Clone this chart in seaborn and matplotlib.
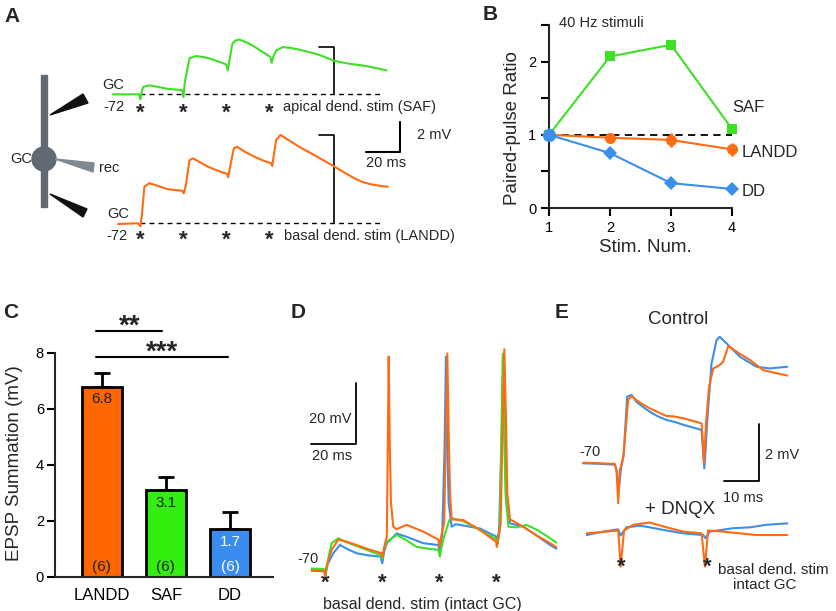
import numpy as np
import pandas as pd
import matplotlib
matplotlib.use('Agg')
import matplotlib.pyplot as plt
import seaborn as sns
from matplotlib.patches import Polygon, Circle, Rectangle

# ---------------- data ----------------
# Panel A traces: (time ms from 1st stim, mV from baseline)
a_saf_trace = [(-16, 0), (-2.7, 0), (-0.8, 0), (0, -0.33), (0.8, 0.2), (1.7, 0.5), (5.2, 0.6), (10, 0.5),
               (15, 0.38), (20, 0.32), (24.2, 0.28), (25, -0.18), (25.8, 0.8), (28.5, 2.4), (32, 2.55),
               (36, 2.5), (40, 2.4), (45, 2.2), (49.8, 2.0), (50.8, 1.6), (51.8, 2.3), (53.5, 3.4),
               (55.5, 3.6), (57.5, 3.65), (61, 3.5), (65, 3.27), (70, 2.9), (75.5, 2.5), (76.3, 2.1),
               (77.2, 2.5), (79, 2.93), (82.7, 3.15), (87, 3.1), (92.4, 2.98), (97, 2.85), (102, 2.7),
               (107, 2.5), (111.8, 2.27), (116, 2.15), (121.5, 2.04), (126, 1.97), (131, 1.89),
               (137, 1.75), (143, 1.6)]
a_landd_trace = [(-13, -0.05), (-1.5, 0), (0, -0.2), (0.8, 0.5), (2.3, 2.44), (5.2, 2.67), (10, 2.5),
                 (16, 2.27), (24.2, 2.17), (25.2, 2.0), (26.5, 2.6), (28.5, 4.2), (30.5, 4.33), (35, 4.05),
                 (39, 3.78), (45, 3.5), (50.4, 3.29), (51, 3.07), (52.2, 3.8), (54.3, 5.0), (56.2, 5.1),
                 (61, 4.75), (66.3, 4.44), (71, 4.2), (76, 4.0), (76.6, 3.82), (77.6, 4.6), (78.9, 5.55),
                 (81.4, 5.89), (84, 5.7), (87.6, 5.44), (93, 5.05), (99.2, 4.67), (106, 4.22),
                 (112.8, 3.78), (119, 3.35), (124.4, 3.0), (129, 2.75), (134, 2.6), (139, 2.5), (143.8, 2.44)]
a_stim_times = [0, 25, 50, 75]

# Panel B: paired-pulse ratio
stim_num = [1, 2, 3, 4]
ppr_saf = [1.0, 2.07, 2.23, 1.08]
ppr_landd = [1.0, 0.96, 0.93, 0.80]
ppr_landd_err = [0.0, 0.04, 0.10, 0.09]
ppr_dd = [1.0, 0.75, 0.34, 0.26]

# Panel C: EPSP summation
groups = ['LANDD', 'SAF', 'DD']
epsp_sum = [6.8, 3.1, 1.7]
epsp_sem = [0.5, 0.48, 0.63]
n_cells = [6, 6, 6]

# Panel D traces (ms, mV)
d_orange = [(-5.8, -70.3), (-0.4, -70.4), (0, -72), (0.6, -69), (2.9, -63.4), (5.8, -60), (9, -60.6),
            (13.8, -61.8), (19, -63.2), (24.8, -64.5), (25.2, -65.6), (26, -62), (27, -59), (27.4, -30),
            (27.8, 0), (28.3, -30), (28.8, -48), (29.8, -55.8), (31.2, -56.6), (35.7, -55.2), (42.9, -57.4),
            (49.5, -60), (50, -62.4), (51, -58), (52, -54.7), (52.8, -25), (53.4, 1), (54, -25), (54.6, -45),
            (55.3, -53.4), (60.4, -53.6), (67.7, -56.9), (74.7, -60.7), (75, -62.4), (76, -58), (76.7, -54.7),
            (77.6, -20), (78.3, 2.4), (79, -20), (79.6, -45), (80.8, -53.4), (86.6, -55.8), (92, -58.5),
            (98.3, -61.2), (101, -62.5)]
d_blue = [(-5.8, -69.8), (-0.4, -70), (0.3, -71), (1.2, -68), (3.6, -64.5), (6.5, -61.8), (10, -63.2),
          (13.8, -64.5), (19, -65.2), (24.3, -65.6), (25, -67.8), (25.8, -64), (27, -61.2), (31.3, -58),
          (36, -59.2), (42.9, -61.2), (49.5, -61.8), (50.1, -63.9), (51.2, -58), (52.2, -30), (52.8, 0),
          (53.4, -30), (54, -48), (55.3, -55.8), (57, -55), (59, -55.2), (67.7, -56.4), (74.7, -59),
          (75, -61), (76, -57), (77.2, -25), (77.9, 1), (78.5, -25), (79.2, -48), (80.8, -54.7),
          (86.6, -55.8), (92, -58.5), (98.3, -61.8), (101, -63)]
d_green = [(-5.8, -69.5), (-0.4, -69.7), (0.3, -71.5), (1.2, -67), (2.9, -61.2), (5.8, -59.6), (9, -60.8),
           (13.8, -62.1), (19, -63.6), (24.3, -65.1), (25, -66.2), (25.8, -63), (27, -60.7), (31.3, -58.5),
           (35, -60), (40, -62.4), (45, -63), (49.5, -63.4), (50.1, -65.6), (51, -62), (52, -59),
           (54.3, -53.6), (55.3, -53), (60.4, -54), (67.7, -56.9), (74.9, -60), (75.3, -61.5), (76.3, -57),
           (77, -25), (77.6, 0.8), (78.2, -25), (78.8, -45), (80.1, -55.8), (83.7, -56), (88, -55.2),
           (93, -57), (98.3, -59.6), (101, -61)]
d_stim_times = [0, 25, 50, 75]

# Panel E traces (ms, mV from -70 baseline)
e_ctrl_orange = [(-10.2, 0.02), (-5.3, 0), (-1, -0.02), (-0.5, -0.23), (0, -1.4), (0.5, -0.23), (1.5, 0.23),
                 (2.9, 2.22), (3.9, 2.36), (5.3, 2.22), (7, 2.08), (9.2, 1.93), (11.5, 1.8), (14.1, 1.66),
                 (16, 1.65), (19, 1.58), (22, 1.48), (24.3, 1.4), (24.6, 0.9), (25, 0), (25.4, 0.9),
                 (25.6, 1.4), (26.5, 2.69), (27.7, 3.33), (28.6, 3.38), (29.6, 3.45), (30.6, 3.57),
                 (32.1, 4.12), (34.5, 3.92), (38.4, 3.63), (42.3, 3.27), (46.2, 3.16), (49.3, 3.08)]
e_ctrl_blue = [(-10.2, 0), (-5.3, -0.02), (-1, -0.05), (-0.4, -0.3), (0.2, -0.9), (0.8, -0.2), (1.6, 0.3),
               (2.6, 2.34), (3.9, 2.4), (5.3, 2.16), (7, 2.0), (9.2, 1.81), (11.5, 1.65), (14.1, 1.52),
               (16.5, 1.45), (19, 1.35), (22, 1.25), (24.3, 1.17), (24.7, 0.5), (25.1, -0.18), (25.5, 0.5),
               (25.9, 1.4), (27.2, 3.5), (28.7, 4.33), (29.6, 4.44), (31.6, 4.21), (35.5, 3.74),
               (40.3, 3.39), (44.2, 3.33), (49.3, 3.39)]
e_dnqx_blue = [(-9.2, -0.18), (-5.3, -0.08), (0, 0.02), (0.7, -0.2), (2.4, 0.09), (6.3, 0.15), (9.2, 0.09),
               (14.1, -0.02), (19, -0.12), (24.8, -0.18), (25.4, -0.29), (26.7, -0.06), (33.5, 0.06),
               (38.4, 0.09), (43.2, 0.18), (49.3, 0.23)]
e_dnqx_orange = [(-9.2, -0.12), (-5.3, -0.08), (0, -0.02), (0.7, -1.29), (1.7, -0.02), (4.4, 0.18),
                 (9.2, 0.26), (14.1, 0.09), (19, -0.06), (24.3, -0.12), (25.3, -1.29), (26.2, -0.02),
                 (30.6, -0.06), (35.5, -0.12), (40.3, -0.18), (49.3, -0.18)]

# ---------------- style ----------------
GREEN = '#3ee025'
ORANGE = '#ff6a12'
BLUE = '#3b8fe8'
BAR_COLORS = ['#ff6600', '#33ee11', '#3a8cf0']

W, H = 837, 611
sns.set_style('ticks')
plt.rcParams['font.family'] = ['Liberation Sans', 'DejaVu Sans']
plt.rcParams['axes.linewidth'] = 1.5

fig = plt.figure(figsize=(W / 100, H / 100), dpi=100)


def box(x0, y0, x1, y1):
    return fig.add_axes([x0 / W, 1 - y1 / H, (x1 - x0) / W, (y1 - y0) / H])


def ftext(x, y, s, **kw):
    kw.setdefault('va', 'center')
    kw.setdefault('fontsize', 10.5)
    fig.text(x / W, 1 - y / H, s, **kw)


def trace(ax, pts, color, offset=0.0, lw=1.5, z=2):
    arr = np.array(pts, dtype=float)
    sns.lineplot(x=arr[:, 0], y=arr[:, 1] + offset, ax=ax, color=color, lw=lw,
                 sort=False, estimator=None, zorder=z)


STAR = dict(ha='center', va='center', fontsize=16, fontweight='bold')

# ---------------- Panel A ----------------
axA = box(100, 30, 480, 260)
axA.set_xlim(-23.5, 197.4)
axA.set_ylim(-2.45, 12.89)
axA.set_axis_off()
saf_off = 8.6
for base in (saf_off, 0.0):
    axA.plot([0, 141], [base, base], color='k', lw=1.0, ls=(0, (3.5, 3)), zorder=1)
trace(axA, a_saf_trace, GREEN, offset=saf_off)
trace(axA, a_landd_trace, ORANGE)
# brackets
axA.plot([103.8, 112.5, 112.5], [saf_off + 3.13, saf_off + 3.13, saf_off], color='k', lw=1.2, zorder=1)
axA.plot([103.8, 112.5, 112.5], [5.87, 5.87, 0], color='k', lw=1.2, zorder=1)
# scale bar
axA.plot([131.1, 150.9, 150.9], [4.75, 4.75, 6.75], color='k', lw=1.5)
for t in a_stim_times:
    axA.text(t, saf_off - 1.25, '*', **STAR)
    axA.text(t, -1.1, '*', **STAR)

ftext(102, 85, 'GC')
ftext(103, 107, '-72')
ftext(107, 214, 'GC')
ftext(106, 236, '-72')
ftext(283, 107, 'apical dend. stim (SAF)')
ftext(284, 236, 'basal dend. stim (LANDD)')
ftext(417, 135, '2 mV')
ftext(386, 163, '20 ms', ha='center')

# neuron schematic
axN = box(0, 60, 115, 230)
axN.set_xlim(0, 115)
axN.set_ylim(230, 60)
axN.set_axis_off()
axN.add_patch(Rectangle((41, 75), 6, 132, color='#5f6a72'))
axN.add_patch(Circle((44, 159), 12, color='#5f6a72'))
axN.add_patch(Polygon([(55, 159), (94, 163), (93, 172)], closed=True, color='#7f898f'))
axN.add_patch(Polygon([(50, 115), (83, 94), (88, 103)], closed=True, color='#111111'))
axN.add_patch(Polygon([(50, 194), (83, 217), (87, 209)], closed=True, color='#111111'))
ftext(10, 159, 'GC')
ftext(99, 168, 'rec')

# ---------------- Panel B ----------------
axB = box(549, 25, 732, 208)
axB.plot([1, 4], [1, 1], color='k', lw=1.3, ls=(0, (4, 3)), zorder=1)
sns.lineplot(x=stim_num, y=ppr_saf, ax=axB, color=GREEN, marker='s', markersize=7,
             markeredgewidth=0, lw=1.5, clip_on=False, zorder=3)
axB.errorbar(stim_num, ppr_landd, yerr=ppr_landd_err, fmt='none', ecolor=ORANGE,
             elinewidth=2, capsize=0, zorder=3, clip_on=False)
sns.lineplot(x=stim_num, y=ppr_landd, ax=axB, color=ORANGE, marker='o', markersize=8,
             markeredgewidth=0, lw=1.5, clip_on=False, zorder=4)
sns.lineplot(x=stim_num, y=ppr_dd, ax=axB, color=BLUE, marker='D', markersize=7,
             markeredgewidth=0, lw=1.5, clip_on=False, zorder=5)
axB.plot([1], [ppr_dd[0]], marker='o', color=BLUE, markersize=8.5, ls='none', clip_on=False, zorder=6)
axB.set_xlim(1, 4)
axB.set_ylim(0, 2.5)
axB.set_xticks(stim_num)
axB.set_xticklabels([str(s) for s in stim_num], fontsize=10.5)
axB.set_yticks([0, 0.5, 1, 1.5, 2, 2.5])
axB.set_yticklabels(['0', '', '1', '', '2', ''], fontsize=10.5)
axB.tick_params(direction='out', length=6, width=1.5, pad=3, colors='k')
sns.despine(ax=axB)
axB.set_xlabel('')
axB.set_ylabel('')
ftext(513, 128, 'Paired-pulse Ratio', rotation=90, ha='center', fontsize=13.5)
ftext(645, 247, 'Stim. Num.', ha='center', fontsize=13.5)
ftext(559, 23, '40 Hz stimuli', fontsize=10.5)
ftext(732, 108, 'SAF', fontsize=12)
ftext(742, 152, 'LANDD', fontsize=12)
ftext(742, 192, 'DD', fontsize=12)

# ---------------- Panel C ----------------
axC = box(55, 353, 273, 577)
dfC = pd.DataFrame({'group': groups, 'value': epsp_sum})
axC.errorbar(range(len(groups)), epsp_sum, yerr=[[0] * len(groups), epsp_sem], fmt='none',
             ecolor='k', elinewidth=2, capsize=6, capthick=2, zorder=1)
sns.barplot(data=dfC, x='group', y='value', hue='group', palette=BAR_COLORS, width=0.625,
            saturation=1, edgecolor='black', linewidth=2, ax=axC, legend=False, errorbar=None, zorder=2)
for b in axC.patches:
    b.set_zorder(2)
axC.set_xlim(-0.73, 2.67)
axC.set_ylim(0, 8)
axC.set_yticks([0, 2, 4, 6, 8])
axC.set_yticklabels(['0', '2', '4', '6', '8'], fontsize=10.5)
axC.tick_params(axis='y', direction='out', length=6, width=1.5, pad=2, colors='k')
axC.tick_params(axis='x', length=0, pad=8, labelsize=12, colors='k')
sns.despine(ax=axC)
axC.set_xlabel('')
axC.set_ylabel('')
for i, (v, n) in enumerate(zip(epsp_sum, n_cells)):
    col = 'white' if groups[i] == 'DD' else '#222222'
    axC.text(i, v - 0.46, f'{v}', ha='center', va='center', fontsize=11, color=col)
    axC.text(i, 0.36, f'({n})', ha='center', va='center', fontsize=11, color=col)
axC.plot([-0.094, 0.94], [8.79, 8.79], color='k', lw=1.5, clip_on=False)
axC.plot([-0.094, 1.97], [7.86, 7.86], color='k', lw=1.5, clip_on=False)
ftext(130, 327, '**', ha='center', fontsize=20, fontweight='bold')
ftext(162, 353, '***', ha='center', fontsize=20, fontweight='bold')
ftext(15, 463, 'EPSP Summation (mV)', rotation=90, ha='center', fontsize=13.5)

# ---------------- Panel D ----------------
axD = box(295, 330, 560, 592)
axD.set_xlim(-13.1, 102.6)
axD.set_ylim(-77.2, 8.7)
axD.set_axis_off()
trace(axD, d_blue, BLUE, z=2)
trace(axD, d_green, GREEN, z=3)
trace(axD, d_orange, ORANGE, z=4)
axD.plot([-6.1, 13.5, 13.5], [-28.7, -28.7, -8.7], color='k', lw=1.3)
for t in d_stim_times:
    axD.text(t, -74.3, '*', **STAR)
ftext(330, 419, '20 mV', ha='center')
ftext(332, 456, '20 ms', ha='center')
ftext(297, 559, '-70')
ftext(422, 604, 'basal dend. stim (intact GC)', ha='center', fontsize=11.5)

# ---------------- Panel E ----------------
axE = box(575, 330, 837, 590)
axE.set_xlim(-12.6, 63.8)
axE.set_ylim(-4.45, 4.68)
axE.set_axis_off()
dnqx_off = -2.34
trace(axE, e_ctrl_blue, BLUE, z=2)
trace(axE, e_ctrl_orange, ORANGE, z=3)
trace(axE, e_dnqx_blue, BLUE, offset=dnqx_off, z=2)
trace(axE, e_dnqx_orange, ORANGE, offset=dnqx_off, z=3)
axE.plot([30.8, 41.0, 41.0], [-0.62, -0.62, 1.38], color='k', lw=1.3)
for t in [0, 25]:
    axE.text(t + 1, -3.65, '*', **STAR)
ftext(678, 319, 'Control', ha='center', fontsize=13.5)
ftext(579, 452, '-70')
ftext(765, 455, '2 mV')
ftext(743, 498, '10 ms', ha='center')
ftext(680, 510, '+ DNQX', ha='center', fontsize=13.5)
ftext(718, 570, 'basal dend. stim', fontsize=11)
ftext(765, 585, 'intact GC', ha='center', fontsize=11)

# ---------------- panel letters ----------------
for lab, (x, y) in {'A': (4, 16), 'B': (483, 15), 'C': (3, 313), 'D': (291, 312), 'E': (555, 312)}.items():
    ftext(x, y, lab, fontsize=15, fontweight='bold')

fig.savefig('out.png', dpi=100)
